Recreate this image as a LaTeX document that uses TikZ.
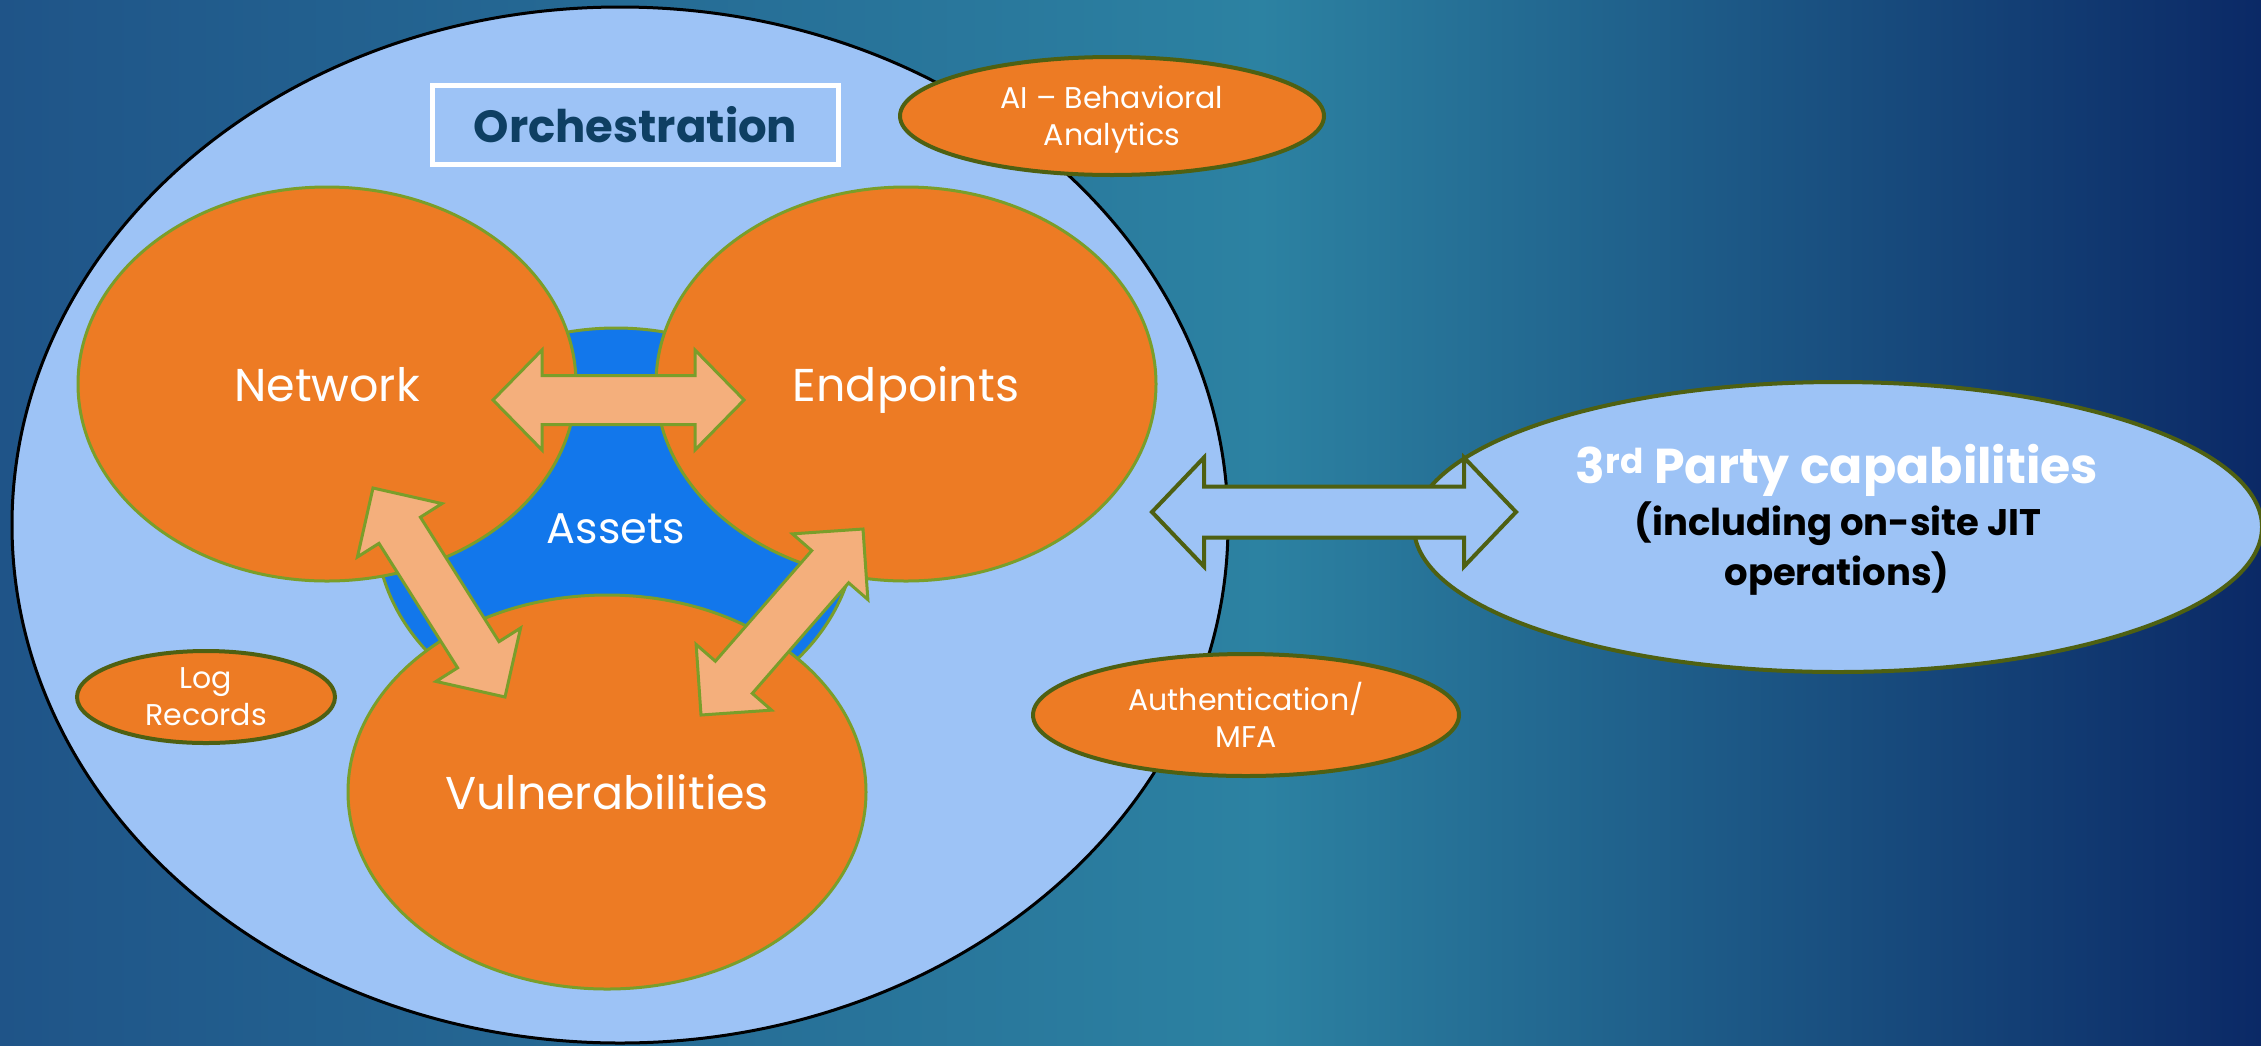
\documentclass[tikz,border=0pt]{standalone}
\usepackage{fontspec}
\setmainfont{Poppins}
\usetikzlibrary{shapes.geometric,calc}

\definecolor{bgnavy}{HTML}{0B2966}
\definecolor{bgteal}{HTML}{2C82A2}
\definecolor{bgleft}{HTML}{1F5488}
\definecolor{skyfill}{HTML}{9DC3F6}
\definecolor{orangefill}{HTML}{ED7B24}
\definecolor{peach}{HTML}{F4AF7C}
\definecolor{leafline}{HTML}{7A9E2A}
\definecolor{oliveline}{HTML}{4E6012}
\definecolor{assetblue}{HTML}{1277EB}
\definecolor{inkblue}{HTML}{0E3F63}

% double-headed block arrow between two named points
% #2,#3 = ends, #4 = head length, #5 = half head width, #6 = half shaft width
\newcommand{\dblblockarrow}[6][]{%
  \coordinate (dba-s) at ($(#2)!#4!(#3)$);
  \coordinate (dba-e) at ($(#3)!#4!(#2)$);
  \draw[#1] (#2) -- ($(dba-s)!#5!90:(#3)$) -- ($(dba-s)!#6!90:(#3)$)
     -- ($(dba-e)!#6!-90:(#2)$) -- ($(dba-e)!#5!-90:(#2)$) -- (#3)
     -- ($(dba-e)!#5!90:(#2)$) -- ($(dba-e)!#6!90:(#2)$)
     -- ($(dba-s)!#6!-90:(#3)$) -- ($(dba-s)!#5!-90:(#3)$) -- cycle;}

\tikzset{
  bubble/.style={ellipse, draw=leafline, line width=3pt, fill=orangefill,
    text=white, inner sep=0pt, text height=34pt, text depth=0pt,
    font=\fontsize{46}{55}\selectfont},
  tag/.style={ellipse, draw=oliveline, line width=4pt, fill=orangefill,
    text=white, inner sep=0pt, align=center, text depth=0pt,
    font=\fontsize{30}{37}\selectfont},
  flowarrow/.style={draw=leafline, line width=3pt, fill=peach},
  linkarrow/.style={draw=oliveline, line width=4pt, fill=skyfill},
  notetext/.style={anchor=base, text=black, inner sep=0pt,
    font=\bfseries\fontsize{37}{44}\selectfont},
}

\begin{document}
\begin{tikzpicture}[x=1pt, y=-1pt]
\useasboundingbox (0,0) rectangle (2261,1045);

% backdrop
\shade[left color=bgleft, right color=bgteal] (0,0) rectangle (1262,1045);
\shade[left color=bgteal, right color=bgnavy] (1260,0) rectangle (2261,1045);

% main domain
\node[ellipse, draw=black, line width=3pt, fill=skyfill, inner sep=0pt,
      minimum width=1216pt, minimum height=1036pt] (orch) at (620,525) {};

% external partner
\node[ellipse, draw=oliveline, line width=4pt, fill=skyfill, inner sep=0pt,
      minimum width=848pt, minimum height=290pt] (third) at (1838,527) {};
\node[anchor=base, text=white, inner sep=0pt,
      font=\bfseries\fontsize{49}{58}\selectfont] (thirdtitle) at (1837,483)
      {3\textsuperscript{rd} Party capabilities};
\node[notetext] (thirdnote) at (1838,535) {(including on-site JIT};
\node[notetext] (thirdnote2) at (1837,585) {operations)};

% core
\node[ellipse, draw=leafline, line width=3pt, fill=assetblue, inner sep=0pt,
      minimum width=480pt, minimum height=400pt, text=white,
      text height=30pt, text depth=0pt,
      font=\fontsize{43}{52}\selectfont] (assets) at (616,528) {Assets};

\node[bubble, minimum width=498pt, minimum height=394pt] (net) at (327,384) {Network};
\node[bubble, minimum width=500pt, minimum height=394pt] (endp) at (906,384) {Endpoints};
\node[bubble, minimum width=518pt, minimum height=394pt] (vuln) at (607,792) {Vulnerabilities};

% exchanges between the three domains
\coordinate (ne-a) at (493,400);
\coordinate (ne-b) at (744,400);
\coordinate (nv-a) at (373,488);
\coordinate (nv-b) at (505,697);
\coordinate (ev-a) at (863,529);
\coordinate (ev-b) at (701,715);
\dblblockarrow[flowarrow]{ne-a}{ne-b}{49pt}{50pt}{24.5pt}
\dblblockarrow[flowarrow]{nv-a}{nv-b}{50pt}{50pt}{24.5pt}
\dblblockarrow[flowarrow]{ev-a}{ev-b}{50pt}{50pt}{24.5pt}

% heading
\node[draw=white, line width=5pt, minimum width=406pt, minimum height=79pt,
      inner sep=0pt, text=inkblue, text height=35pt, text depth=0pt,
      font=\bfseries\fontsize{45}{54}\selectfont]
      (title) at (635.5,125) {Orchestration};

% supporting services
\node[tag, minimum width=424pt, minimum height=118pt] (ai) at (1112,116) {AI – Behavioral\\Analytics};
\node[tag, minimum width=258pt, minimum height=92pt] (logs) at (206,697) {Log\\Records};
\node[tag, minimum width=426pt, minimum height=122pt] (auth) at (1246,715) {Authentication/\\MFA};

% link to the partner
\coordinate (lk-a) at (1152,512);
\coordinate (lk-b) at (1516,512);
\dblblockarrow[linkarrow]{lk-a}{lk-b}{52pt}{54.5pt}{25.5pt}
\end{tikzpicture}
\end{document}
